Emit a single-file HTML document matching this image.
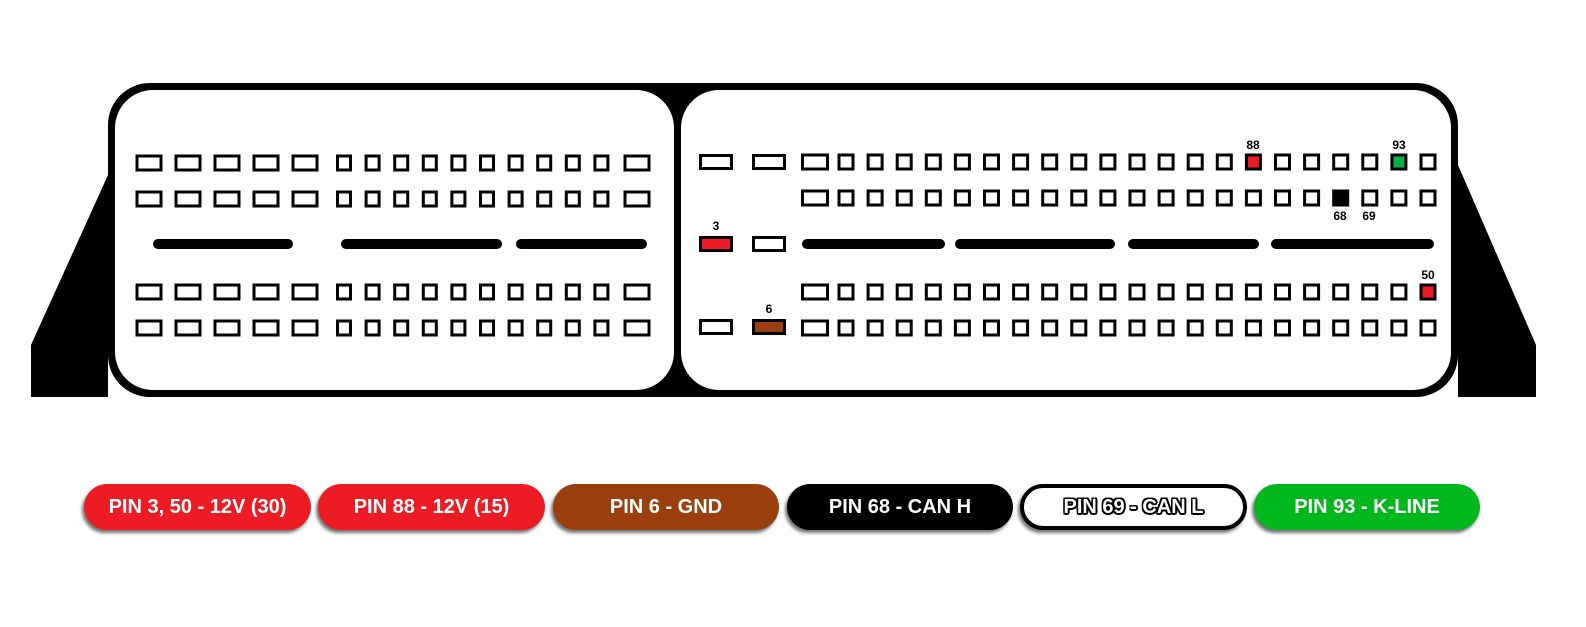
<!DOCTYPE html>
<html><head><meta charset="utf-8"><style>
html,body{margin:0;padding:0;background:#fff;width:1586px;height:627px;overflow:hidden}
svg{position:absolute;left:0;top:0}
.pill{position:absolute;top:484px;height:46px;border-radius:23px;font:bold 20px "Liberation Sans",sans-serif;color:#fff;display:flex;align-items:center;justify-content:center;box-shadow:-2px 3px 3px rgba(0,0,0,.55);box-sizing:border-box;white-space:nowrap}
</style></head><body>
<svg id="s" width="1586" height="627" xmlns="http://www.w3.org/2000/svg">
<polygon points="31,345 108,175 108,397 31,397" fill="#000"/>
<polygon points="1458,165 1536,345 1536,397 1458,397" fill="#000"/>
<rect x="108" y="83" width="1350" height="314" rx="42" fill="#000"/>
<rect x="115" y="90" width="559" height="300" rx="38" fill="#fff"/>
<rect x="681" y="90" width="770" height="300" rx="38" fill="#fff"/>
<g fill="#000">
<rect x="153" y="239" width="140" height="10" rx="5"/>
<rect x="341" y="239" width="161" height="10" rx="5"/>
<rect x="516" y="239" width="131" height="10" rx="5"/>
<rect x="802" y="239" width="143" height="10" rx="5"/>
<rect x="955" y="239" width="160" height="10" rx="5"/>
<rect x="1128" y="239" width="131" height="10" rx="5"/>
<rect x="1271" y="239" width="163" height="10" rx="5"/>
</g>
<g id="pins" stroke="#000" stroke-width="3" fill="#fff"></g>
<g font-family="Liberation Sans,sans-serif" font-weight="bold" font-size="12" text-anchor="middle" fill="#000">
<text x="716" y="230">3</text>
<text x="769" y="313">6</text>
<text x="1253" y="149">88</text>
<text x="1399" y="149">93</text>
<text x="1340" y="220">68</text>
<text x="1369" y="220">69</text>
<text x="1428" y="279">50</text>
</g>
</svg>
<div class="pill" style="left:84px;width:227px;background:#ED1C24">PIN 3, 50 - 12V (30)</div>
<div class="pill" style="left:318px;width:227px;background:#ED1C24">PIN 88 - 12V (15)</div>
<div class="pill" style="left:553px;width:226px;background:#9B3F0F">PIN 6 - GND</div>
<div class="pill" style="left:787px;width:226px;background:#000">PIN 68 - CAN H</div>
<div class="pill" style="left:1020px;width:227px;background:#fff;border:4px solid #000;text-shadow:-1.5px -1.5px 0 #000,1.5px -1.5px 0 #000,-1.5px 1.5px 0 #000,1.5px 1.5px 0 #000,0 2px 0 #000,2px 0 0 #000">PIN 69 - CAN L</div>
<div class="pill" style="left:1254px;width:226px;background:#00B81C">PIN 93 - K-LINE</div>
<script>
var g=document.getElementById('pins'),h='';
function r(cx,cy,w,hh,f){h+='<rect x="'+(cx-w/2)+'" y="'+(cy-hh/2)+'" width="'+w+'" height="'+hh+'" fill="'+(f||'#fff')+'"/>';}
var lrows=[163,199,292,328];
lrows.forEach(function(y){
  for(var i=0;i<5;i++)r(149+39*i,y,24,14);
  for(var i=0;i<10;i++)r(344+28.6*i,y,13,14);
  r(637,y,24,14);
});
var rrows=[162,198,292,328];
rrows.forEach(function(y,ri){
  r(815,y,25,14);
  for(var i=0;i<21;i++){
    var f='#fff';
    if(ri==0&&i==14)f='#ED1C24';
    if(ri==0&&i==19)f='#00B04A';
    if(ri==1&&i==17)f='#000';
    if(ri==2&&i==20)f='#ED1C24';
    r(846+29.1*i,y,14,14,f);
  }
});
r(716,162,31,13);r(769,162,31,13);
r(716,244,31,13,'#ED1C24');r(769,244,31,13);
r(716,327,31,13);r(769,327,31,13,'#9B3F0F');
g.innerHTML=h;
</script>
</body></html>
